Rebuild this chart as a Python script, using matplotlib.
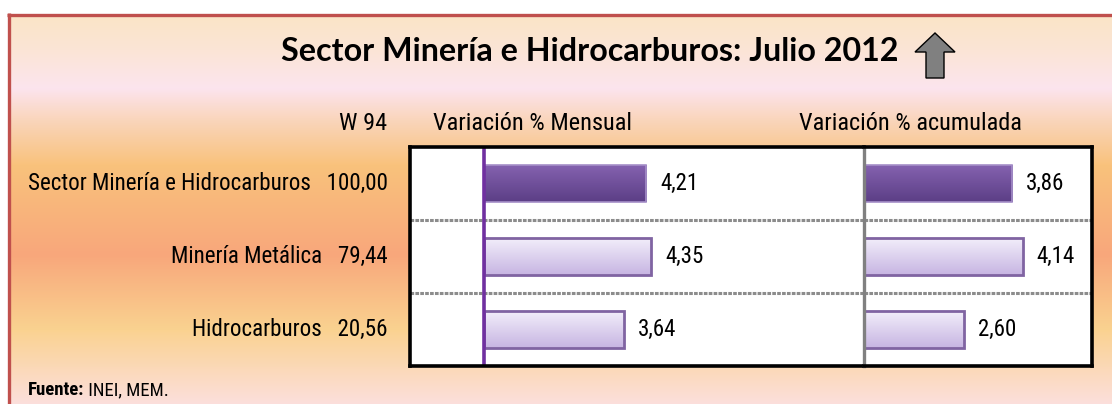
import numpy as np
import matplotlib
matplotlib.use('Agg')
import matplotlib.pyplot as plt
from matplotlib import font_manager
from matplotlib.font_manager import FontProperties
from matplotlib.colors import LinearSegmentedColormap
from matplotlib.patches import Polygon
from matplotlib.transforms import blended_transform_factory

# ===================== DATA =====================
sectores = ['Sector Minería e Hidrocarburos', 'Minería Metálica', 'Hidrocarburos']
pesos = ['100,00', '79,44', '20,56']
var_mensual = [4.21, 4.35, 3.64]
var_acumulada = [3.86, 4.14, 2.60]
titulo = 'Sector Minería e Hidrocarburos: Julio 2012'
col_peso = 'W 94'
col_mensual = 'Variación % Mensual'
col_acumulada = 'Variación % acumulada'
fuente = ('Fuente:', 'INEI, MEM.')

# ===================== FONTS =====================
# look for a narrow face (Arial Narrow look-alike); fall back to Liberation Sans
files = [f.fname for f in font_manager.fontManager.ttflist]
narrow_file = None
for pat in ['LiberationSansNarrow-Regular', 'RobotoCondensed-Regular', 'Roboto_Condensed-Regular',
            'DejaVuSansCondensed.ttf', 'NotoSans-Condensed.ttf', 'NotoSansDisplay-Condensed',
            'OpenSans-CondensedRegular', 'OpenSans_Condensed-Regular', 'Condensed']:
    hits = [f for f in files if pat in f.split('/')[-1] and 'Bold' not in f and 'Italic' not in f
            and 'Oblique' not in f and 'Light' not in f]
    if hits:
        narrow_file = hits[0]
        break

narrow_bold = None
if narrow_file:
    for cand in [narrow_file.replace('Regular', 'Bold'), narrow_file.replace('.ttf', '-Bold.ttf'),
                 narrow_file.replace('Condensed.ttf', 'Condensed-Bold.ttf')]:
        if cand in files and cand != narrow_file:
            narrow_bold = cand
            break

if narrow_file:
    def nfont(size, bold=False):
        if bold and narrow_bold:
            return FontProperties(fname=narrow_bold, size=size)
        return FontProperties(fname=narrow_file, size=size)
    S_HEAD, S_ROW, S_VAL, S_SRC = 17.5, 16.6, 16.5, 13.5
else:
    def nfont(size, bold=False):
        return FontProperties(family='Liberation Sans', size=size,
                              weight='bold' if bold else 'normal')
    S_HEAD, S_ROW, S_VAL, S_SRC = 13.5, 13.5, 12.5, 10.5

installed = {f.name for f in font_manager.fontManager.ttflist}
TITLE_FONT = 'Lato' if 'Lato' in installed else 'DejaVu Sans'

W, H = 1112, 404
fig = plt.figure(figsize=(W / 100, H / 100), dpi=100)

# background axes in pixel coordinates
bg = fig.add_axes([0, 0, 1, 1], zorder=0)
bg.axis('off')

stops = [(14, '#FAE4C6'), (50, '#FBE5D6'), (88, '#FCE4EE'), (118, '#FAD6BE'),
         (165, '#F9C27C'), (255, '#F8A77B'), (330, '#FAD290'), (404, '#FCDFDC')]
ys = np.arange(14, H + 1)
rgb = np.array([matplotlib.colors.to_rgb(c) for _, c in stops])
grad = np.stack([np.interp(ys, [s for s, _ in stops], rgb[:, k]) for k in range(3)], axis=1)
bg.imshow(grad[:, None, :], extent=(8, W, H, 14), aspect='auto', origin='upper', zorder=0)
bg.plot([8.5, 8.5], [13, H], color='#C0504D', lw=2.4, zorder=1, solid_capstyle='butt')
bg.plot([7, W], [14.5, 14.5], color='#C0504D', lw=2.4, zorder=1, solid_capstyle='butt')
bg.set_xlim(0, W)
bg.set_ylim(H, 0)

# title + arrow
t = bg.text(590, 61, titulo, ha='center', va='baseline', fontsize=22,
            fontweight='bold', family=TITLE_FONT, color='black')
fig.canvas.draw()
tw = t.get_window_extent().width
t.set_fontsize(22 * 616 / tw)
arrow = Polygon([(935, 33), (955, 52), (944, 52), (944, 78), (926, 78), (926, 52), (915, 52)],
                closed=True, facecolor='#808080', edgecolor='black', lw=1.0, zorder=3)
bg.add_patch(arrow)

# column headers
bg.text(387, 124, col_peso, ha='right', va='center', fontproperties=nfont(S_HEAD))
bg.text(433, 124, col_mensual, ha='left', va='center', fontproperties=nfont(S_HEAD))
bg.text(799, 124, col_acumulada, ha='left', va='center', fontproperties=nfont(S_HEAD))

# fuente
f1 = bg.text(28, 390, fuente[0], ha='left', va='center', fontproperties=nfont(S_SRC, bold=True))
f2 = bg.text(28, 390, ' ' + fuente[1], ha='left', va='center', fontproperties=nfont(S_SRC))
fig.canvas.draw()
f2.set_x(28 + f1.get_window_extent().width)

# ===================== BAR PANELS =====================
def px_axes(x0, x1, y0, y1):
    return fig.add_axes([x0 / W, (H - y1) / H, (x1 - x0) / W, (y1 - y0) / H], zorder=2)

ax1 = px_axes(410, 864, 147, 366)
ax2 = px_axes(864, 1092, 147, 366)

dark = LinearSegmentedColormap.from_list('dark', ['#8563B0', '#5C3E86'])
light = LinearSegmentedColormap.from_list('light', ['#F3EFFB', '#C7B5E2'])
rows = np.arange(len(sectores))
bar_h = 0.52

def draw_panel(ax, vals, xlim):
    ax.set_facecolor('white')
    bars = ax.barh(rows, vals, height=bar_h, color='none', zorder=4)
    for i, b in enumerate(bars):
        cmap = dark if i == 0 else light
        b.set_edgecolor('#A58FC8' if i == 0 else '#8064A2')
        b.set_linewidth(1.2 if i == 0 else 2.0)
        x0, y0 = b.get_x(), b.get_y()
        im = ax.imshow(np.linspace(0, 1, 60).reshape(-1, 1), cmap=cmap, aspect='auto',
                       origin='upper', extent=(x0, x0 + b.get_width(), y0 + b.get_height(), y0),
                       zorder=3)
        im.set_clip_path(b)
        ax.annotate(f'{vals[i]:.2f}'.replace('.', ','), xy=(vals[i], rows[i]),
                    xytext=(10, 0), textcoords='offset points', va='center', ha='left',
                    fontproperties=nfont(S_VAL), zorder=5)
    for yy in (0.5, 1.5):
        ax.axhline(yy, color='#8C8C8C', lw=2.2, ls=(0, (1.2, 0.4)), zorder=2)
    ax.set_xlim(*xlim)
    ax.set_ylim(len(sectores) - 0.5, -0.5)
    ax.set_xticks([])
    ax.set_yticks([])
    for s in ax.spines.values():
        s.set_color('black')
        s.set_linewidth(2.6)
        s.set_zorder(6)

draw_panel(ax1, var_mensual, (-1.92, 9.87))
draw_panel(ax2, var_acumulada, (0, 5.94))
ax1.spines['right'].set_visible(False)
ax2.spines['left'].set_color('#808080')
ax2.spines['left'].set_linewidth(2.4)
ax1.axvline(0, color='#7030A0', lw=2.6, zorder=5)

# row labels: name + weight, right aligned next to the panel
trans = blended_transform_factory(bg.transData, ax1.transData)
for i, (name, w) in enumerate(zip(sectores, pesos)):
    ax1.text(388, rows[i], f'{name}   {w}', transform=trans, ha='right', va='center',
             fontproperties=nfont(S_ROW), clip_on=False)

fig.savefig('out.png', dpi=100)
